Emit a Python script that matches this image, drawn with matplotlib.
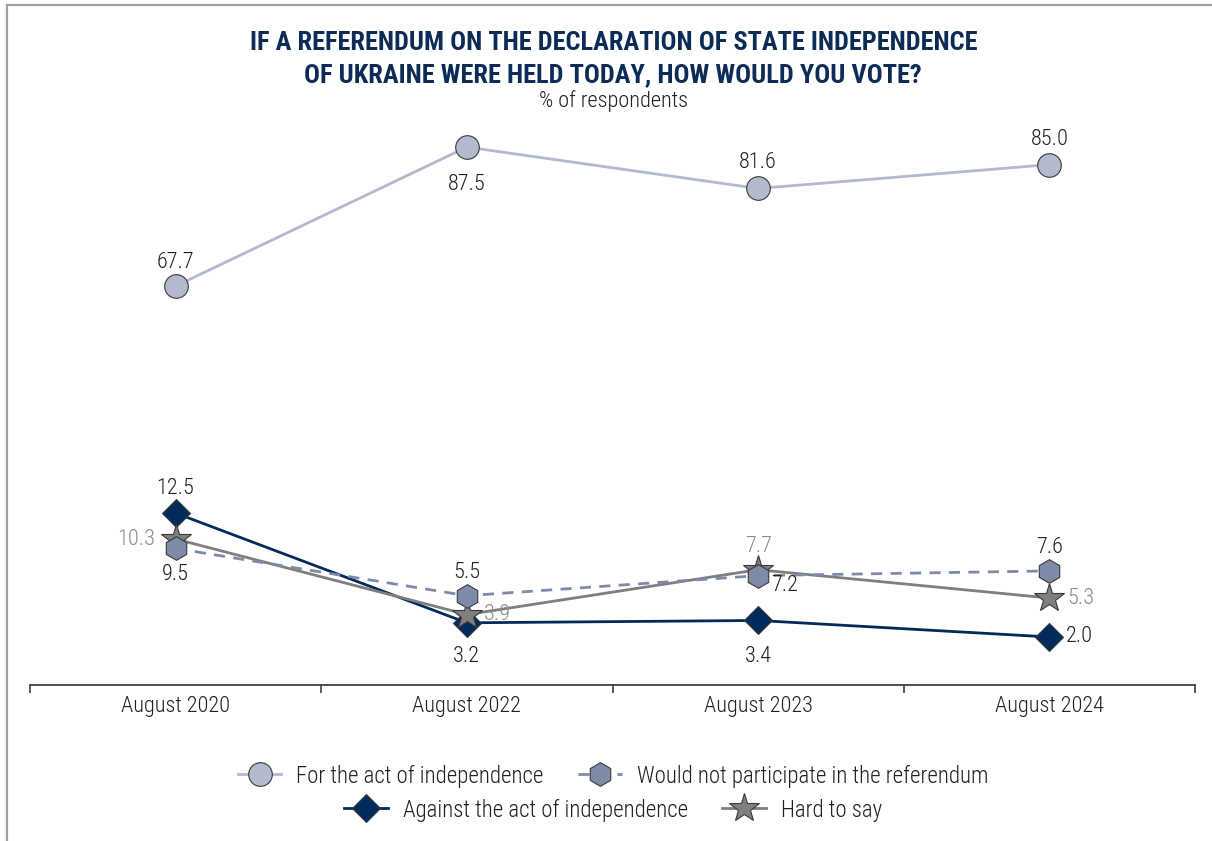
import matplotlib
matplotlib.use("Agg")
import matplotlib.pyplot as plt
from matplotlib import font_manager
from matplotlib.lines import Line2D

# prefer a narrow face when one is installed
_names = {f.name for f in font_manager.fontManager.ttflist}
FAMILY = "DejaVu Sans"
for cand in ("Roboto Condensed", "Liberation Sans Narrow", "Open Sans Condensed",
             "Noto Sans Condensed"):
    if cand in _names:
        FAMILY = cand
        break
plt.rcParams['font.family'] = [FAMILY, 'DejaVu Sans']
plt.rcParams['font.stretch'] = 'condensed'
BODY_W = "light"

# ---- data ----
periods = ["August 2020", "August 2022", "August 2023", "August 2024"]
for_act = [67.7, 87.5, 81.6, 85.0]
against_act = [12.5, 3.2, 3.4, 2.0]
not_participate = [9.5, 5.5, 7.2, 7.6]
hard_to_say = [10.3, 3.9, 7.7, 5.3]

C_FOR = "#B3BACD"
C_NOT = "#7D8BA9"
C_AGAINST = "#002B5C"
C_HARD = "#7F7F7F"
C_TEXT = "#231F20"
C_TEXT_GRAY = "#8C8C8C"
C_TITLE = "#0D2B57"

W, H = 1212, 841
fig = plt.figure(figsize=(W / 100, H / 100), dpi=100)

# page frame (left and top rules)
fig.add_artist(Line2D([7 / W, 7 / W], [0, 1 - 5 / H], transform=fig.transFigure,
                      color="#A0A0A0", lw=1.6))
fig.add_artist(Line2D([7 / W, 1], [1 - 5 / H, 1 - 5 / H], transform=fig.transFigure,
                      color="#A0A0A0", lw=1.6))

ax_l, ax_r, ax_b, ax_t = 30, 1195, 685, 110
rect = [ax_l / W, 1 - ax_b / H, (ax_r - ax_l) / W, (ax_b - ax_t) / H]
ax = fig.add_axes(rect)
ax2 = ax.twinx()

x = [i + 0.5 for i in range(len(periods))]

for a in (ax, ax2):
    a.set_xlim(0, len(periods))
    for s in ("top", "left", "right"):
        a.spines[s].set_visible(False)
    a.set_yticks([])
    a.patch.set_visible(False)
ax2.spines["bottom"].set_visible(False)
ax.spines["bottom"].set_color("#404040")
ax.spines["bottom"].set_linewidth(1.3)

ax.set_ylim(-2.07, 46.66)
ax2.set_ylim(10.87, 92.78)

ax.set_xticks(x)
ax.set_xticklabels(periods, fontsize=16, color=C_TEXT, fontweight=BODY_W)
ax.tick_params(axis="x", which="major", length=0, pad=8)
ax.set_xticks(range(len(periods) + 1), minor=True)
ax.tick_params(axis="x", which="minor", length=6, width=1.2, color="#404040",
               direction="out")

edge = "#3A3A3A"
l_against, = ax.plot(x, against_act, color=C_AGAINST, lw=2.0, marker="D", ms=14,
                     mfc=C_AGAINST, mec=edge, mew=0.8, zorder=3,
                     label="Against the act of independence")
l_hard, = ax.plot(x, hard_to_say, color=C_HARD, lw=2.0, marker="*", ms=22,
                  mfc=C_HARD, mec=edge, mew=0.8, zorder=4, label="Hard to say")
l_not, = ax.plot(x, not_participate, color=C_NOT, lw=2.0, ls=(0, (4, 3)), marker="h",
                 ms=17, mfc=C_NOT, mec=edge, mew=0.8, zorder=5,
                 label="Would not participate in the referendum")
l_for, = ax2.plot(x, for_act, color=C_FOR, lw=2.0, marker="o", ms=17, mfc=C_FOR,
                  mec=edge, mew=0.8, zorder=3, label="For the act of independence")


def label(a, xi, v, dx, dy, ha="center", color=C_TEXT):
    a.annotate(f"{v:.1f}", (xi, v), xytext=(dx, dy), textcoords="offset points",
               ha=ha, va="center", fontsize=16, color=color, zorder=10,
               fontweight=BODY_W)


for_off = [(0, 17), (0, -27), (0, 19), (0, 18)]
for xi, v, (dx, dy) in zip(x, for_act, for_off):
    label(ax2, xi, v, dx, dy)

against_off = [(0, 18, "center"), (0, -24, "center"), (0, -26, "center"), (12, 0, "left")]
for xi, v, (dx, dy, ha) in zip(x, against_act, against_off):
    label(ax, xi, v, dx, dy, ha)

not_off = [(0, -19, "center"), (0, 17, "center"), (9, -7, "left"), (0, 17, "center")]
for xi, v, (dx, dy, ha) in zip(x, not_participate, not_off):
    label(ax, xi, v, dx, dy, ha)

hard_off = [(-15, 0, "right"), (12, 0, "left"), (0, 17, "center"), (13, 0, "left")]
for xi, v, (dx, dy, ha) in zip(x, hard_to_say, hard_off):
    label(ax, xi, v, dx, dy, ha, color=C_TEXT_GRAY)

# titles
fig.text(0.506, 1 - 43 / H, "IF A REFERENDUM ON THE DECLARATION OF STATE INDEPENDENCE",
         ha="center", va="center", fontsize=19, fontweight="bold", color=C_TITLE)
fig.text(0.506, 1 - 75 / H, "OF UKRAINE WERE HELD TODAY, HOW WOULD YOU VOTE?",
         ha="center", va="center", fontsize=19, fontweight="bold", color=C_TITLE)
fig.text(0.506, 1 - 101 / H, "% of respondents", ha="center", va="center",
         fontsize=16, color=C_TEXT, fontweight=BODY_W)

# legend, two centred rows
leg_kw = dict(ncol=2, frameon=False, handlelength=1.9,
              handletextpad=0.65, columnspacing=1.5, loc="center",
              prop=dict(family=[FAMILY, 'DejaVu Sans'], size=16.5, weight=BODY_W,
                        stretch='condensed'))
leg1 = fig.legend([l_for, l_not], [l_for.get_label(), l_not.get_label()],
                  bbox_to_anchor=(613 / W, 1 - 776 / H), **leg_kw)
leg2 = fig.legend([l_against, l_hard], [l_against.get_label(), l_hard.get_label()],
                  bbox_to_anchor=(613 / W, 1 - 810 / H), **leg_kw)
for lg in (leg1, leg2):
    for t in lg.get_texts():
        t.set_color(C_TEXT)

fig.savefig("out.png", dpi=100)
